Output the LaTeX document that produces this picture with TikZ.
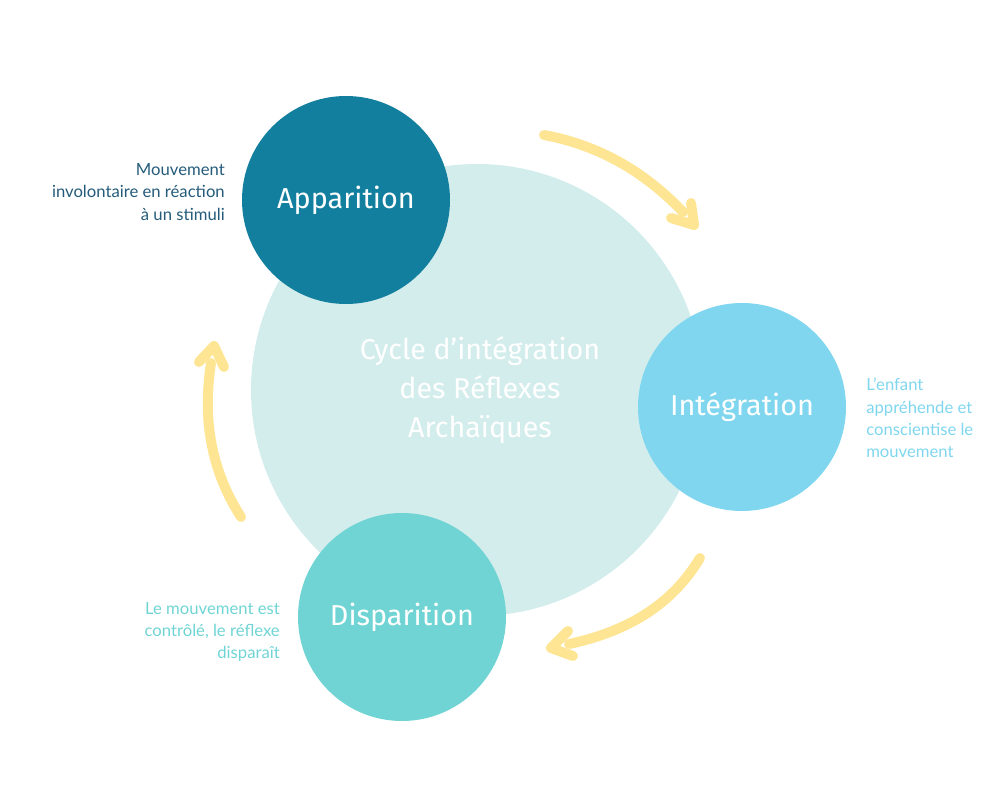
\documentclass[tikz,border=0pt]{standalone}
\usepackage{fontspec}
\setmainfont{Lato}
\newfontfamily\titlefont{Fira Sans}
\definecolor{bigc}{HTML}{D3EDEC}
\definecolor{appc}{HTML}{137F9F}
\definecolor{intc}{HTML}{7FD6EE}
\definecolor{disc}{HTML}{70D4D4}
\definecolor{arrc}{HTML}{FDE594}
\definecolor{apptxt}{HTML}{245B7A}
\tikzset{
  bubble/.style={circle, minimum size=208*0.75pt, inner sep=0pt, text=white, font=\titlefont\fontsize{21.6}{26}\selectfont},
  note/.style={font=\fontsize{12.5}{16.8}\selectfont, inner sep=0pt},
  yarrow/.style={draw=arrc, line width=7.5pt, line cap=round, line join=round},
}
\begin{document}
\begin{tikzpicture}[x=0.75pt,y=-0.75pt]
\useasboundingbox (0,0) rectangle (1000,788);
\node[circle, fill=bigc, minimum size=452*0.75pt, inner sep=0pt] (big) at (477,390) {};
\node[font=\titlefont\fontsize{21.5}{29}\selectfont, text=white, align=center] (title) at (480,390) {Cycle d’intégration\\des Réflexes\\Archaïques};
\node[bubble, fill=appc] (app) at (346,200) {Apparition};
\node[bubble, fill=intc] (int) at (742,407) {Intégration};
\node[bubble, fill=disc] (dis) at (402,617) {Disparition};
\node[note, text=apptxt, align=right, anchor=east] (appnote) at (225,192) {Mouvement\\involontaire en réaction\\à un stimuli};
\node[note, text=intc, align=left, anchor=west] (intnote) at (866,418) {L’enfant\\appréhende et\\conscientise le\\mouvement};
\node[note, text=disc, align=right, anchor=east] (disnote) at (280,632) {Le mouvement est\\contrôlé, le réflexe\\disparaît};
% arrow 1
\coordinate (a1s) at (544,135);
\coordinate (a1e) at (683,212);
\coordinate (a1t) at (694,225);
\coordinate (a1l) at (691,203);
\coordinate (a1r) at (671,218);
\draw[yarrow] (a1s) .. controls (598,145) and (644,171) .. (a1e);
\draw[yarrow] (a1l) -- (a1t) -- (a1r);
% arrow 2
\coordinate (a2s) at (700,558);
\coordinate (a2e) at (569,644);
\coordinate (a2t) at (551,648);
\coordinate (a2l) at (568,631);
\coordinate (a2r) at (573,656);
\draw[yarrow] (a2s) .. controls (673,603) and (630,631) .. (a2e);
\draw[yarrow] (a2l) -- (a2t) -- (a2r);
% arrow 3
\coordinate (a3s) at (241,517);
\coordinate (a3e) at (211,363);
\coordinate (a3t) at (214,346);
\coordinate (a3l) at (199,362);
\coordinate (a3r) at (224,367);
\draw[yarrow] (a3s) .. controls (212,472) and (202,421) .. (a3e);
\draw[yarrow] (a3l) -- (a3t) -- (a3r);
\end{tikzpicture}
\end{document}
